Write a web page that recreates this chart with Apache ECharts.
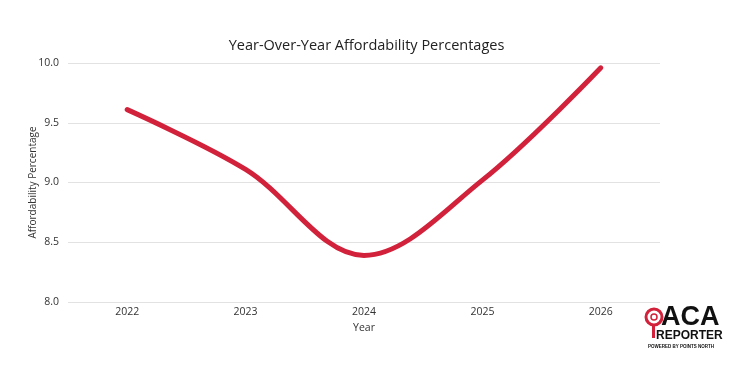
<!DOCTYPE html>
<html><head><meta charset="utf-8">
<script src="https://cdn.jsdelivr.net/npm/echarts@6/dist/echarts.min.js"></script>
<style>html,body{margin:0;padding:0;background:#fff}#c{width:733px;height:366px}</style>
</head><body><div id="c"></div>
<script>
const years = ['2022','2023','2024','2025','2026'];
const affordability = [9.61, 9.11, 8.39, 9.02, 9.96];
const yTicks = {min: 8, max: 10, interval: 0.5};

const chart = echarts.init(document.getElementById('c'));
chart.setOption({
  animation: false,
  title: {text: 'Year-Over-Year Affordability Percentages', left: 'center', top: 33,
    textStyle: {fontFamily: 'Open Sans', fontWeight: 'normal', fontSize: 14.5, color: '#222'}},
  grid: {left: 68, top: 63, width: 592, height: 239},
  xAxis: {type: 'category', data: years, boundaryGap: true,
    name: 'Year', nameLocation: 'middle', nameGap: 19,
    nameTextStyle: {fontFamily: 'Open Sans', fontSize: 10.5, color: '#333'},
    axisLine: {show: false}, axisTick: {show: false},
    axisLabel: {fontFamily: 'Open Sans', fontSize: 10.5, color: '#333', margin: 5}},
  yAxis: {type: 'value', min: yTicks.min, max: yTicks.max, interval: yTicks.interval,
    name: 'Affordability Percentage', nameLocation: 'middle', nameGap: 30, nameRotate: 90,
    nameMoveOverlap: false,
    nameTextStyle: {fontFamily: 'Open Sans', fontSize: 10, color: '#333'},
    axisLabel: {fontFamily: 'Open Sans', fontSize: 10.5, color: '#333', margin: 9,
      formatter: v => v.toFixed(1)},
    splitLine: {lineStyle: {color: '#e2e2e2', width: 1}}},
  series: [{type: 'line', data: affordability, smooth: 0.35, symbol: 'none',
    lineStyle: {color: '#d2213a', width: 5, cap: 'round'}}],
  graphic: [
    {type: 'circle', shape: {cx: 654, cy: 317, r: 8}, style: {fill: 'none', stroke: '#d2213a', lineWidth: 3}},
    {type: 'circle', shape: {cx: 654, cy: 317, r: 3}, style: {fill: 'none', stroke: '#d2213a', lineWidth: 1.5}},
    {type: 'rect', shape: {x: 652, y: 325, width: 3, height: 13}, style: {fill: '#d2213a'}},
    {type: 'text', x: 661, y: 304, style: {text: 'ACA', font: 'bold 27px "Liberation Sans"', fill: '#111'}},
    {type: 'text', x: 656, y: 330, style: {text: 'REPORTER', font: 'bold 12px "Liberation Sans"', fill: '#111'}},
    {type: 'text', x: 648, y: 344, style: {text: 'POWERED BY POINTS NORTH', font: 'bold 4.5px "Liberation Sans"', fill: '#111'}}
  ]
});
</script></body></html>
